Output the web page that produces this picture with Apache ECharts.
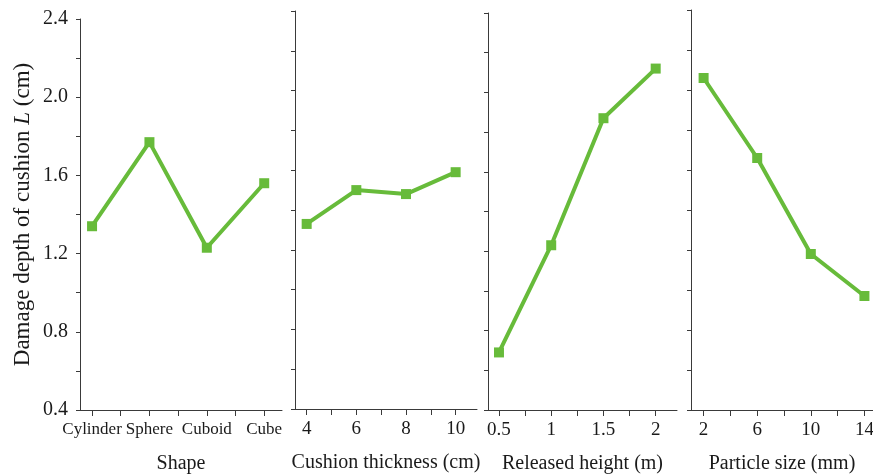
<!DOCTYPE html>
<html>
<head>
<meta charset="utf-8">
<script src="https://cdn.jsdelivr.net/npm/echarts@6/dist/echarts.min.js"></script>
<style>
  html, body { margin: 0; padding: 0; background: #fff; }
  #chart { width: 873px; height: 474px; }
</style>
</head>
<body>
<div id="chart"></div>
<script>
// Range analysis of cushion damage depth for four factors
const shapeCats = ['Cylinder', 'Sphere', 'Cuboid', 'Cube'];
const shapeDepth = [1.34, 1.77, 1.23, 1.56];

const thicknessLevels = [4, 6, 8, 10];
const thicknessDepth = [1.33, 1.50, 1.48, 1.59];

const heightLevels = [0.5, 1, 1.5, 2];
const heightDepth = [0.69, 1.23, 1.87, 2.12];

const sizeLevels = [2, 6, 10, 14];
const sizeDepth = [2.06, 1.66, 1.18, 0.97];

const yLabelTicks = [0.4, 0.8, 1.2, 1.6, 2.0, 2.4];

const xNames = ['Shape', 'Cushion thickness (cm)', 'Released height (m)', 'Particle size (mm)'];

const FONT = '"Liberation Serif", "DejaVu Serif", serif';
const GREEN = '#67bb3a';
const AXIS = '#3a3a3a';
const TEXT = '#1a1a1a';

// panel layout: grid boxes and x extents
const panels = [
  { left: 80,  width: 202, top: 19, height: 391, min: 0.79, max: 4.31,
    xs: [1, 2, 3, 4], ys: shapeDepth, labels: shapeCats, labelSize: 17 },
  { left: 295, width: 182, top: 11, height: 398, min: 3.53, max: 10.86,
    xs: thicknessLevels, ys: thicknessDepth, labels: null, labelSize: 19 },
  { left: 488, width: 189, top: 13, height: 397, min: 0.395, max: 2.204,
    xs: heightLevels, ys: heightDepth, labels: null, labelSize: 19 },
  { left: 691, width: 182, top: 10, height: 400, min: 1.06, max: 14.64,
    xs: sizeLevels, ys: sizeDepth, labels: null, labelSize: 19 }
];

function withMidpoints(xs) {
  const out = [];
  xs.forEach((v, i) => {
    out.push(v);
    if (i < xs.length - 1) out.push((v + xs[i + 1]) / 2);
  });
  return out;
}

const grid = [], xAxis = [], yAxis = [], series = [];

panels.forEach((p, i) => {
  grid.push({
    left: p.left, width: p.width, top: p.top, height: p.height,
    containLabel: false, outerBoundsMode: 'none'
  });

  xAxis.push({
    type: 'value',
    gridIndex: i,
    min: p.min,
    max: p.max,
    name: xNames[i],
    nameLocation: 'middle',
    nameGap: 44,
    nameTextStyle: { fontFamily: FONT, fontSize: 20, color: TEXT },
    axisLine: { show: true, lineStyle: { color: AXIS, width: 1 } },
    axisTick: { show: true, inside: false, length: 6, customValues: withMidpoints(p.xs),
      lineStyle: { color: AXIS } },
    axisLabel: {
      customValues: p.xs,
      margin: 11,
      fontFamily: FONT,
      fontSize: p.labelSize,
      color: TEXT,
      formatter: p.labels ? (v) => p.labels[p.xs.indexOf(v)] : (v) => String(v)
    },
    splitLine: { show: false }
  });

  yAxis.push({
    type: 'value',
    gridIndex: i,
    min: 0.4,
    max: 2.4,
    interval: 0.2,
    name: i === 0 ? '{a|Damage depth of cushion }{i|L}{a| (cm)}' : '',
    nameLocation: 'middle',
    nameGap: 46,
    nameRotate: 90,
    nameTextStyle: {
      rich: {
        a: { fontFamily: FONT, fontSize: 23, color: TEXT },
        i: { fontFamily: FONT, fontSize: 23, color: TEXT, fontStyle: 'italic' }
      }
    },
    axisLine: { show: true, lineStyle: { color: AXIS, width: 1 } },
    axisTick: { show: true, inside: false, length: 4, lineStyle: { color: AXIS } },
    axisLabel: {
      show: i === 0,
      customValues: yLabelTicks,
      margin: 12,
      fontFamily: FONT,
      fontSize: 20,
      color: TEXT,
      formatter: (v) => v.toFixed(1)
    },
    splitLine: { show: false }
  });

  series.push({
    type: 'line',
    xAxisIndex: i,
    yAxisIndex: i,
    data: p.xs.map((x, k) => [x, p.ys[k]]),
    symbol: 'rect',
    symbolSize: 10,
    color: GREEN,
    lineStyle: { color: GREEN, width: 4 },
    itemStyle: { color: GREEN },
    animation: false
  });
});

const chart = echarts.init(document.getElementById('chart'), null, { renderer: 'canvas' });
chart.setOption({
  backgroundColor: '#fff',
  animation: false,
  grid, xAxis, yAxis, series
});
</script>
</body>
</html>
